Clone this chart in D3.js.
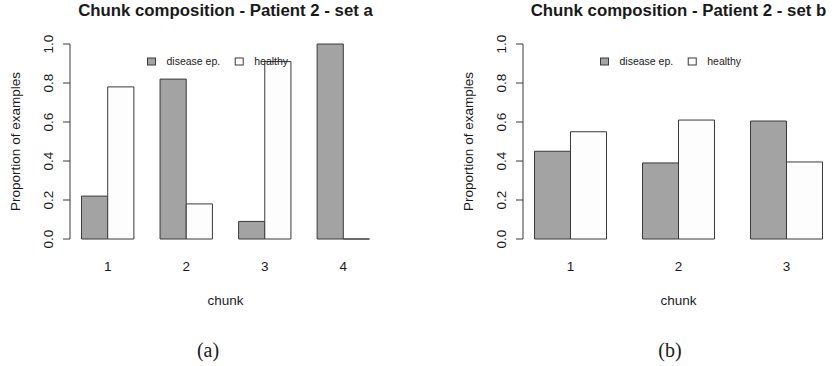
<!DOCTYPE html>
<html>
<head>
<meta charset="utf-8">
<script src="https://cdn.jsdelivr.net/npm/d3@7"></script>
<style>
    body { margin: 0; background: #ffffff; }
    svg { display: block; }
    text { font-family: "Liberation Sans", Arial, Helvetica, sans-serif; fill: #1a1a1a; }
    .caption { font-family: "Liberation Serif", "DejaVu Serif", serif; }
</style>
</head>
<body>
<div id="chart"></div>
<script>

// data
const seriesNames = ["disease ep.", "healthy"];
const seriesColors = ["#a3a3a3", "#fdfdfd"];
const yTicks = [0.0, 0.2, 0.4, 0.6, 0.8, 1.0];

const chunksA = ["1", "2", "3", "4"];
const diseaseA = [0.22, 0.82, 0.09, 1.0];
const healthyA = [0.78, 0.18, 0.91, 0.0];

const chunksB = ["1", "2", "3"];
const diseaseB = [0.45, 0.39, 0.605];
const healthyB = [0.55, 0.61, 0.395];


class BarPanel {

    constructor(svg, offsetX, title, caption, captionX, chunks, disease, healthy) {
        this.svg = svg;
        this.offsetX = offsetX;
        this.title = title;
        this.caption = caption;
        this.captionX = captionX;
        this.chunks = chunks;
        this.disease = disease;
        this.healthy = healthy;

        this.initVis()
    }

    initVis() {
        let vis = this;

        // plot region (same for both panels, like par(mfrow) in R)
        vis.left = 70;
        vis.width = 311;
        vis.top = 36.2;
        vis.bottom = 246.8;
        vis.center = vis.left + vis.width / 2;
        vis.fontSize = "13.5px";

        vis.g = vis.svg.append("g")
            .attr("transform", `translate(${vis.offsetX}, 0)`);

        // barplot units: each group = 1 space + 2 bars, R pads the range by 4%
        let n = vis.chunks.length;
        let lo = 1, hi = 3 * n;
        let pad = 0.04 * (hi - lo);
        vis.x = d3.scaleLinear()
            .domain([lo - pad, hi + pad])
            .range([vis.left, vis.left + vis.width]);

        vis.y = d3.scaleLinear()
            .domain([-0.04, 1.04])
            .range([vis.bottom, vis.top]);

        vis.wrangleData()
    }

    wrangleData() {
        let vis = this;

        vis.bars = [];
        vis.chunks.forEach((c, i) => {
            let start = 1 + 3 * i;
            vis.bars.push({chunk: c, series: 0, x0: start, x1: start + 1, value: vis.disease[i]});
            vis.bars.push({chunk: c, series: 1, x0: start + 1, x1: start + 2, value: vis.healthy[i]});
        });

        vis.updateVis()
    }

    updateVis() {
        let vis = this;

        // bars (paths so a zero value still shows as a line)
        vis.g.selectAll(".bar")
            .data(vis.bars)
            .enter().append("path")
            .attr("class", "bar")
            .attr("d", d => {
                let xa = vis.x(d.x0), xb = vis.x(d.x1);
                let ya = vis.y(0), yb = vis.y(d.value);
                return `M${xa},${ya}H${xb}V${yb}H${xa}Z`;
            })
            .attr("fill", d => seriesColors[d.series])
            .attr("stroke", "#3a3a3a")
            .attr("stroke-width", 1);

        // y axis
        let yAxis = vis.g.append("g").attr("class", "y-axis");
        yAxis.append("line")
            .attr("x1", vis.left).attr("x2", vis.left)
            .attr("y1", vis.y(0)).attr("y2", vis.y(1))
            .attr("stroke", "#3a3a3a");
        yAxis.selectAll(".tick")
            .data(yTicks)
            .enter().append("line")
            .attr("class", "tick")
            .attr("x1", vis.left - 7).attr("x2", vis.left)
            .attr("y1", d => vis.y(d)).attr("y2", d => vis.y(d))
            .attr("stroke", "#3a3a3a");
        yAxis.selectAll(".tick-label")
            .data(yTicks)
            .enter().append("text")
            .attr("class", "tick-label")
            .attr("transform", d => `translate(${vis.left - 22}, ${vis.y(d)}) rotate(-90)`)
            .attr("text-anchor", "middle")
            .attr("dy", "0.35em")
            .style("font-size", vis.fontSize)
            .text(d => d3.format(".1f")(d));

        // x labels under each group
        vis.g.selectAll(".x-label")
            .data(vis.chunks)
            .enter().append("text")
            .attr("class", "x-label")
            .attr("x", (d, i) => vis.x(2 + 3 * i))
            .attr("y", 271)
            .attr("text-anchor", "middle")
            .style("font-size", vis.fontSize)
            .text(d => d);

        // axis titles
        vis.g.append("text")
            .attr("x", vis.center)
            .attr("y", 304.5)
            .attr("text-anchor", "middle")
            .style("font-size", vis.fontSize)
            .text("chunk");

        vis.g.append("text")
            .attr("transform", `translate(15, ${(vis.top + vis.bottom) / 2}) rotate(-90)`)
            .attr("text-anchor", "middle")
            .attr("dy", "0.35em")
            .style("font-size", vis.fontSize)
            .text("Proportion of examples");

        // main title
        vis.g.append("text")
            .attr("x", vis.center)
            .attr("y", 16)
            .attr("text-anchor", "middle")
            .style("font-size", "16.8px")
            .style("font-weight", "bold")
            .text(vis.title);

        // legend at the top, no box
        let legend = vis.g.append("g").attr("class", "legend");
        let lx = vis.center - 78;
        let ly = 61.5;
        seriesNames.forEach((name, i) => {
            legend.append("rect")
                .attr("x", lx)
                .attr("y", ly - 3.5)
                .attr("width", 8)
                .attr("height", 7)
                .attr("fill", seriesColors[i])
                .attr("stroke", "#3a3a3a");
            let t = legend.append("text")
                .attr("x", lx + 19)
                .attr("y", ly)
                .attr("dy", "0.35em")
                .style("font-size", "10.5px")
                .text(name);
            lx += 19 + t.node().getComputedTextLength() + 15;
        });

        // subfigure caption
        vis.svg.append("text")
            .attr("class", "caption")
            .attr("x", vis.captionX)
            .attr("y", 357)
            .attr("text-anchor", "middle")
            .style("font-size", "20px")
            .text(vis.caption);
    }
}

let svg = d3.select("#chart").append("svg")
    .attr("width", 832)
    .attr("height", 366);

let panelA = new BarPanel(svg, 0, "Chunk composition - Patient 2 - set a", "(a)", 208, chunksA, diseaseA, healthyA);
let panelB = new BarPanel(svg, 453, "Chunk composition - Patient 2 - set b", "(b)", 670, chunksB, diseaseB, healthyB);

</script>
</body>
</html>
